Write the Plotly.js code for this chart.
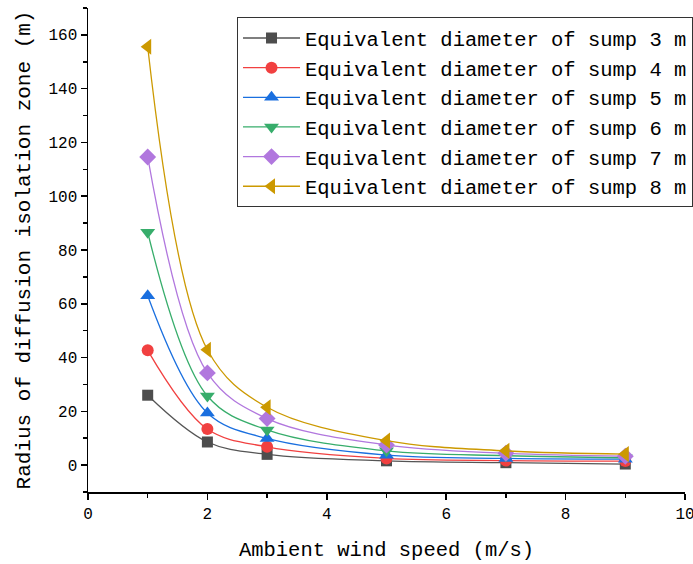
<!DOCTYPE html>
<html>
<head>
<meta charset="utf-8">
<script src="https://cdn.plot.ly/plotly-3.0.1.min.js"></script>
<style>html,body{margin:0;padding:0;background:#fff;}#chart{width:693px;height:564px;}</style>
</head>
<body>
<div id="chart"></div>
<script>
const windSpeed = [1, 2, 3, 5, 7, 9];
const seriesNames = [
  "Equivalent diameter of sump 3 m",
  "Equivalent diameter of sump 4 m",
  "Equivalent diameter of sump 5 m",
  "Equivalent diameter of sump 6 m",
  "Equivalent diameter of sump 7 m",
  "Equivalent diameter of sump 8 m"
];
const sump3 = [26.0, 8.6, 4.0, 1.6, 0.9, 0.4];
const sump4 = [42.7, 13.4, 6.8, 2.5, 1.7, 1.5];
const sump5 = [63.0, 19.4, 9.9, 3.7, 2.5, 2.2];
const sump6 = [86.6, 25.7, 13.1, 5.3, 3.5, 2.7];
const sump7 = [114.6, 34.3, 17.3, 7.5, 4.4, 3.3];
const sump8 = [155.6, 42.9, 21.5, 9.1, 5.3, 4.1];
const xTicks = [0, 2, 4, 6, 8, 10];
const yTicks = [0, 20, 40, 60, 80, 100, 120, 140, 160];

const allSeries = [sump3, sump4, sump5, sump6, sump7, sump8];
const markerColors = ["#4d4d4d", "#f14040", "#1a6fdf", "#37ad6b", "#b177de", "#cc9900"];
const lineColors = ["#555555", "#f14040", "#1a6fdf", "#37ad6b", "#b177de", "#cc9900"];
const symbols = ["square", "circle", "triangle-up", "triangle-down", "diamond", "triangle-left"];
const sizes = [11, 12, 13, 13, 13, 14];

const font = "Liberation Mono, DejaVu Sans Mono, monospace";

const traces = allSeries.map((ys, i) => ({
  x: windSpeed,
  y: ys,
  type: "scatter",
  mode: "lines+markers",
  name: seriesNames[i],
  line: {color: lineColors[i], width: 1.3, shape: "spline", smoothing: 1},
  marker: {symbol: symbols[i], color: markerColors[i], size: sizes[i], line: {width: 0}}
}));

const layout = {
  width: 693,
  height: 564,
  margin: {l: 88, r: 8, t: 8, b: 72, autoexpand: false},
  paper_bgcolor: "#ffffff",
  plot_bgcolor: "#ffffff",
  font: {family: font, color: "#000000", size: 16},
  showlegend: true,
  legend: {
    x: 0.2496, y: 0.981, xanchor: "left", yanchor: "top",
    bordercolor: "#333333", borderwidth: 1, bgcolor: "#ffffff",
    font: {family: font, size: 20.5, color: "#000000"},
    tracegroupgap: 0, itemwidth: 57
  },
  xaxis: {
    range: [0, 10],
    automargin: false,
    tickvals: xTicks,
    ticktext: xTicks.map(String),
    ticklabeloverflow: "allow",
    showgrid: false, zeroline: false,
    showline: true, linecolor: "#000000", linewidth: 1.5,
    ticks: "outside", ticklen: 6, tickwidth: 1.5, tickcolor: "#000000",
    minor: {dtick: 1, tick0: 0, ticks: "outside", ticklen: 4, tickwidth: 1.5, tickcolor: "#000000"},
    tickfont: {family: font, size: 16},
    title: {text: "Ambient wind speed (m/s)", font: {family: font, size: 20.5}, standoff: 19}
  },
  yaxis: {
    range: [-10, 170],
    automargin: false,
    tickvals: yTicks,
    ticktext: yTicks.map(String),
    showgrid: false, zeroline: false,
    showline: true, linecolor: "#000000", linewidth: 1.5,
    ticks: "outside", ticklen: 6, tickwidth: 1.5, tickcolor: "#000000",
    minor: {dtick: 10, tick0: 0, ticks: "outside", ticklen: 4, tickwidth: 1.5, tickcolor: "#000000"},
    tickfont: {family: font, size: 16},
    title: {text: "Radius of diffusion isolation zone (m)", font: {family: font, size: 21}, standoff: 12}
  }
};

Plotly.newPlot("chart", traces, layout, {displayModeBar: false, staticPlot: true});
</script>
</body>
</html>
